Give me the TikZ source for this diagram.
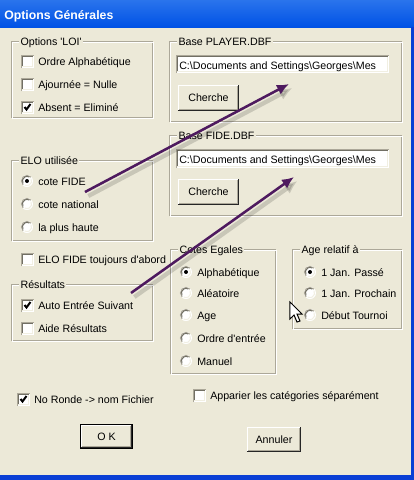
\documentclass[tikz,border=0pt]{standalone}
\usepackage{fontspec}
\setmainfont{Liberation Sans}
\usetikzlibrary{arrows.meta}
\definecolor{dlgbg}{HTML}{ECE9D8}
\definecolor{dkgray}{HTML}{716F64}
\definecolor{mdgray}{HTML}{ACA899}
\definecolor{ltgray}{HTML}{F1EFE2}
\definecolor{xptop}{HTML}{2A74EC}
\definecolor{xpbot}{HTML}{0052E6}
\definecolor{xpborder}{HTML}{0A3FD5}
\definecolor{arrowpurple}{HTML}{4E1A5F}
\tikzset{
  lbl/.style={anchor=base west, inner sep=0pt, font=\fontsize{8}{9.6}\selectfont},
  grplbl/.style={anchor=base west, inner xsep=1pt, inner ysep=1pt, fill=dlgbg, font=\fontsize{8}{9.6}\selectfont},
  btnlbl/.style={inner sep=0pt, font=\fontsize{8}{9.6}\selectfont},
  titletxt/.style={anchor=base west, inner sep=0pt, text=white, font=\fontsize{9.2}{11}\selectfont\bfseries},
  pointer/.style={draw=arrowpurple, line width=1.9pt, -{Latex[length=9pt,width=8pt]}},
  pshadow/.style={draw=black, opacity=0.15, line width=3.2pt, -{Latex[length=10pt,width=9pt]}},
  thinln/.style={line width=0.75pt},
}
\newcommand\sunkbox[4]{%
  \fill[white] (#1,#2) rectangle (#3,#4);
  \draw[mdgray, thinln] (#1+0.5,#4) -- (#1+0.5,#2+0.5) -- (#3,#2+0.5);
  \draw[dkgray, thinln] (#1+1.5,#4-1) -- (#1+1.5,#2+1.5) -- (#3-1,#2+1.5);
  \draw[ltgray, thinln] (#1+1.5,#4-1.5) -- (#3-1.5,#4-1.5) -- (#3-1.5,#2+1.5);
}
\newcommand\ckbox[5]{%
  \sunkbox{#1}{#2-6}{#1+13}{#2+7}
  \ifnum#3=1 \draw[black, line width=1.5pt] (#1+3.5,#2) -- (#1+5.5,#2+2.5) -- (#1+9.5,#2-3);\fi
  \node[lbl] (#4) at (#1+17,#2+4.5) {#5};
}
\newcommand\rdbtn[5]{%
  \fill[white] (#1,#2) circle (6);
  \draw[mdgray, thinln] (#1,#2) ++(135:5.6) arc[start angle=135, end angle=315, radius=5.6];
  \draw[dkgray, thinln] (#1,#2) ++(150:4.6) arc[start angle=150, end angle=300, radius=4.6];
  \draw[ltgray, thinln] (#1,#2) ++(-30:4.6) arc[start angle=-30, end angle=120, radius=4.6];
  \ifnum#3=1 \fill[black] (#1,#2) circle (2);\fi
  \node[lbl] (#4) at (#1+11,#2+4.5) {#5};
}
\newcommand\grpbox[6]{%
  \draw[mdgray, thinln] (#1,#2) rectangle (#3,#4);
  \draw[white, thinln] (#1+1,#2+1) rectangle (#3+1,#4+1);
  \node[grplbl] (#5) at (#1+7,#2+4.5) {#6};
}
\newcommand\rbutton[6]{%
  \fill[dlgbg] (#1,#2) rectangle (#3,#4);
  \draw[white, thinln] (#1+0.5,#4-1) -- (#1+0.5,#2+0.5) -- (#3-1,#2+0.5);
  \draw[black!85, thinln] (#1,#4-0.5) -- (#3-0.5,#4-0.5) -- (#3-0.5,#2);
  \draw[mdgray, thinln] (#1+1.5,#4-1.5) -- (#3-1.5,#4-1.5) -- (#3-1.5,#2+1);
  \node[btnlbl] (#5) at ({(#1+#3)/2},{(#2+#4)/2}) {#6};
}
\begin{document}
\begin{tikzpicture}[x=0.75pt,y=-0.75pt]
\useasboundingbox (0,0) rectangle (414,480);
\fill[dlgbg] (0,0) rectangle (414,480);
% window frame
\shade[top color=xptop, bottom color=xpbot] (0,0) rectangle (414,27);
\fill[xpborder] (411,27) rectangle (414,480);
\fill[xpborder] (0,475) rectangle (414,480);
\node[titletxt] (title) at (4,19) {Options Générales};

% Options 'LOI'
\grpbox{12}{41}{153}{117}{gLoi}{Options \textquotesingle LOI\textquotesingle}
\ckbox{21}{61}{0}{cOrdre}{Ordre Alphabétique}
\ckbox{21}{84}{0}{cAjourn}{Ajournée = Nulle}
\ckbox{21}{107}{1}{cAbsent}{Absent = Eliminé}

% Base PLAYER.DBF
\grpbox{170}{41}{402}{121}{gPlayer}{Base PLAYER.DBF}
\sunkbox{176}{55}{389}{73}
\node[lbl] (pathA) at (179,69) {C:\textbackslash Documents and Settings\textbackslash Georges\textbackslash Mes};
\rbutton{178}{85}{239}{111}{bPlayer}{Cherche}

% Base FIDE.DBF
\grpbox{170}{135}{402}{215}{gFide}{Base FIDE.DBF}
\sunkbox{176}{149}{389}{168}
\node[lbl] (pathB) at (179,163) {C:\textbackslash Documents and Settings\textbackslash Georges\textbackslash Mes};
\rbutton{178}{179}{239}{205}{bFide}{Cherche}

% ELO utilisée
\grpbox{12}{160}{153}{240}{gElo}{ELO utilisée}
\rdbtn{27}{181}{1}{rFide}{cote FIDE}
\rdbtn{27}{204}{0}{rNat}{cote national}
\rdbtn{27}{227}{0}{rHaute}{la plus haute}

\ckbox{21}{259}{0}{cEloFide}{ELO FIDE toujours d\textquotesingle abord}

% Résultats
\grpbox{12}{284}{153}{340}{gRes}{Résultats}
\ckbox{21}{305}{1}{cAuto}{Auto Entrée Suivant}
\ckbox{21}{328}{0}{cAide}{Aide Résultats}

% Cotes Egales
\grpbox{171}{249}{276}{373}{gCotes}{Cotes Egales}
\rdbtn{186}{272}{1}{rAlpha}{Alphabétique}
\rdbtn{186}{293}{0}{rAlea}{Aléatoire}
\rdbtn{186}{315}{0}{rAge}{Age}
\rdbtn{186}{338}{0}{rOrdre}{Ordre d\textquotesingle entrée}
\rdbtn{186}{361}{0}{rManuel}{Manuel}

% Age relatif à
\grpbox{293}{249}{402}{328}{gAge}{Age relatif à}
\rdbtn{310}{272}{1}{rPasse}{1 Jan. Passé}
\rdbtn{310}{293}{0}{rProch}{1 Jan. Prochain}
\rdbtn{310}{315}{0}{rDebut}{Début Tournoi}

% bottom checkboxes
\ckbox{17}{399}{1}{cRonde}{No Ronde -> nom Fichier}
\ckbox{193}{395}{0}{cApp}{Apparier les catégories séparément}

% buttons
\rbutton{81}{425}{132}{448}{bOk}{O K}
\draw[black, thinln] (80.5,424.5) rectangle (132.5,448.5);
\rbutton{247}{427}{301}{452}{bAnnuler}{Annuler}

% mouse cursor
\draw[fill=white, line width=0.75pt, line join=miter] (290,302) -- (290,319) -- (294,315) -- (297,322) -- (300,321) -- (297,314) -- (302,314) -- cycle;

% purple arrows
\coordinate (a1s) at (85,192);
\coordinate (a1e) at (289,84);
\coordinate (a2s) at (131,293);
\coordinate (a2e) at (294,177);
\draw[pshadow, transform canvas={xshift=2.5pt, yshift=-3pt}] (a1s) -- (a1e);
\draw[pshadow, transform canvas={xshift=2.5pt, yshift=-3pt}] (a2s) -- (a2e);
\draw[pointer] (a1s) -- (a1e);
\draw[pointer] (a2s) -- (a2e);
\end{tikzpicture}
\end{document}
